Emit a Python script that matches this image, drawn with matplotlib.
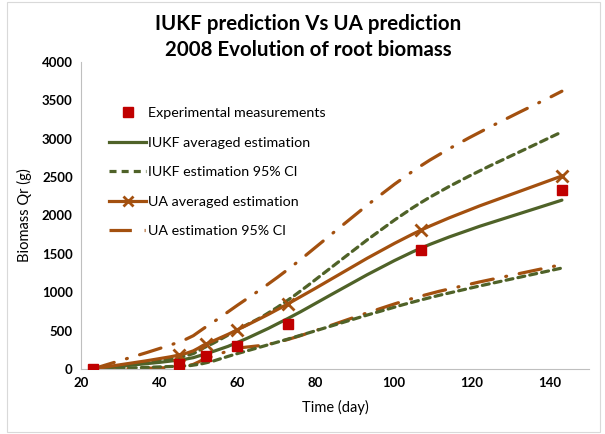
import numpy as np
import matplotlib.pyplot as plt
from matplotlib.path import Path
from matplotlib.patches import PathPatch, Rectangle
from matplotlib.lines import Line2D

plt.rcParams['font.family'] = ['Lato', 'DejaVu Sans']

# Data
days = [23, 45, 52, 60, 73, 107, 143]
measured = [0, 70, 165, 295, 585, 1555, 2330]
iukf_avg = [0, 115, 200, 345, 660, 1575, 2200]
iukf_up = [0, 150, 290, 510, 900, 2170, 3090]
iukf_lo = [0, 35, 80, 200, 390, 900, 1315]
ua_avg = [0, 180, 325, 510, 850, 1810, 2515]
ua_up = [0, 350, 550, 830, 1300, 2650, 3620]
ua_lo = [0, 25, 135, 265, 385, 950, 1360]

green = '#4f6228'
orange = '#a3500f'
red = '#c00000'


def smooth_path(x, y):
    # Excel-style smoothed line as cubic bezier through the points
    p = np.column_stack([x, y]).astype(float)
    verts = [p[0]]
    codes = [Path.MOVETO]
    n = len(p)
    for i in range(n - 1):
        p0 = p[i - 1] if i > 0 else p[i]
        p3 = p[i + 2] if i + 2 < n else p[i + 1]
        c1 = p[i] + (p[i + 1] - p0) / 6
        c2 = p[i + 1] - (p3 - p[i]) / 6
        verts += [c1, c2, p[i + 1]]
        codes += [Path.CURVE4] * 3
    return Path(verts, codes)


def draw(ax, x, y, color, ls):
    ax.add_patch(PathPatch(smooth_path(x, y), facecolor='none', edgecolor=color,
                           lw=2.3, linestyle=ls, capstyle='round', joinstyle='round'))


fig = plt.figure(figsize=(6.05, 4.34), dpi=100)
ax = fig.add_axes([0.134, 0.150, 0.840, 0.707])

dashdot = (0, (7, 4, 0.3, 4))
dashed = (0, (2.2, 1.6))
draw(ax, days, ua_up, orange, dashdot)
draw(ax, days, ua_lo, orange, dashdot)
draw(ax, days, iukf_up, green, dashed)
draw(ax, days, iukf_lo, green, dashed)
draw(ax, days, iukf_avg, green, '-')
draw(ax, days, ua_avg, orange, '-')
ax.plot(days[1:], ua_avg[1:], ls='none', marker='x', ms=8, mew=2, color=orange, zorder=4)
ax.plot(days, measured, ls='none', marker='s', ms=7, color=red, zorder=5)

ax.set_xlim(20, 150)
ax.set_ylim(0, 4000)
ax.set_xticks(range(20, 141, 20))
ax.set_yticks(range(0, 4001, 500))
ax.tick_params(length=0, labelsize=9.5, pad=6)
for lab in ax.get_xticklabels() + ax.get_yticklabels():
    lab.set_fontweight('bold')
for s in ['top', 'right']:
    ax.spines[s].set_visible(False)
for s in ['left', 'bottom']:
    ax.spines[s].set_color('#bfbfbf')

ax.set_xlabel('Time (day)', fontsize=10.5, labelpad=8)
ax.set_ylabel('Biomass Qr (g)', fontsize=10.5, labelpad=7)
fig.suptitle('IUKF prediction Vs UA prediction\n2008 Evolution of root biomass',
             fontsize=14.8, fontweight='bold', y=0.968, x=0.51, linespacing=1.4)

handles = [
    Line2D([], [], ls='none', marker='s', ms=7, color=red),
    Line2D([], [], color=green, lw=2.3),
    Line2D([], [], color=green, lw=2.3, ls=dashed),
    Line2D([], [], color=orange, lw=2.3, marker='x', ms=7, mew=2),
    Line2D([], [], color=orange, lw=2.3, ls=dashdot),
]
labels = ['Experimental measurements', 'IUKF averaged estimation',
          'IUKF estimation 95% CI', 'UA averaged estimation', 'UA estimation 95% CI']
ax.legend(handles, labels, loc='upper left', bbox_to_anchor=(0.03, 0.895),
          frameon=False, fontsize=10.3, labelspacing=1.22, handlelength=2.6,
          handletextpad=0.1)

fig.add_artist(Rectangle((0.012, 0.005), 0.98, 0.99, transform=fig.transFigure,
                         fill=False, edgecolor='#d9d9d9', lw=0.8))

fig.savefig('out.png', dpi=100)
